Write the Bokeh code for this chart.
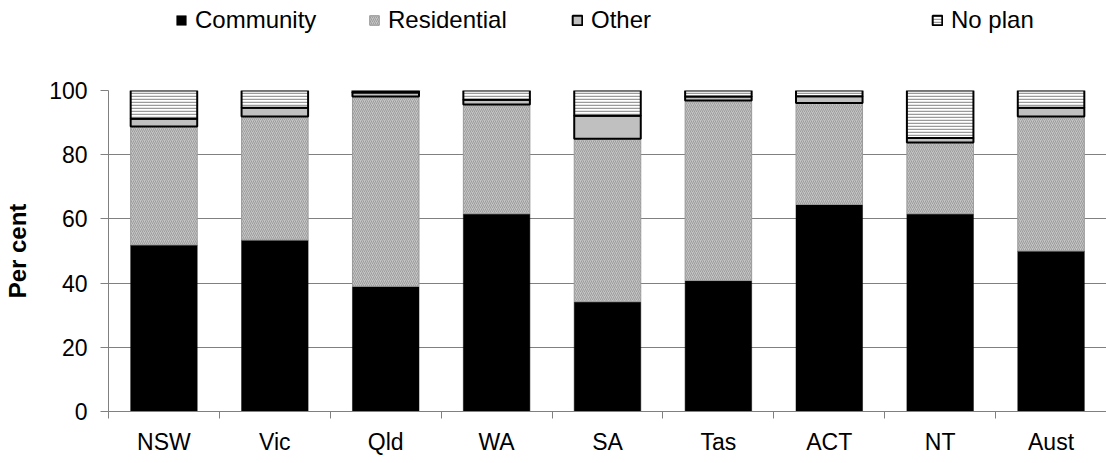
from bokeh.plotting import figure
from bokeh.layouts import column
from bokeh.models import (ColumnDataSource, Range1d, FixedTicker, Legend, LegendItem)
from bokeh.embed import file_html
from bokeh.resources import INLINE

categories = ["NSW", "Vic", "Qld", "WA", "SA", "Tas", "ACT", "NT", "Aust"]
community = [51.9, 53.4, 39.0, 61.6, 34.2, 40.8, 64.5, 61.6, 50.0]
residential = [36.9, 38.5, 59.1, 34.0, 50.8, 56.1, 31.6, 22.2, 41.9]
other = [2.4, 2.7, 1.3, 1.5, 7.1, 1.2, 2.1, 1.4, 2.7]
no_plan = [8.8, 5.4, 0.6, 2.9, 7.9, 1.9, 1.8, 14.8, 5.4]
series_names = ["Community", "Residential", "Other", "No plan"]
y_ticks = [0, 20, 40, 60, 80, 100]

FONT = "Liberation Sans"
FS = "23px"
LFS = "24px"

x = [i + 0.5 for i in range(len(categories))]
data = dict(x=x, community=community, residential=residential,
            other=other, no_plan=no_plan)
src = ColumnDataSource(data)
stack_fields = ["community", "residential", "other", "no_plan"]

styles = [
    dict(fill_color="black", line_color="black", line_width=0.5),
    dict(fill_color="#c4c4c4", line_color="#9a9a9a", line_width=1,
         hatch_pattern="/", hatch_color="#9c9c9c", hatch_scale=4, hatch_weight=1),
    dict(fill_color="#c0c0c0", line_color="black", line_width=2),
    dict(fill_color="white", line_color="black", line_width=2,
         hatch_pattern="-", hatch_color="#9a9a9a", hatch_scale=3, hatch_weight=1.5),
]


def apply_style(glyph, s):
    for k, v in s.items():
        setattr(glyph, k, v)


# ---------- main chart ----------
p = figure(width=1106, height=423, output_backend="svg", toolbar_location=None,
           x_range=Range1d(0, len(categories)), y_range=Range1d(0, 100),
           min_border_left=108, min_border_right=0, min_border_top=50,
           min_border_bottom=52)
p.outline_line_color = None
p.background_fill_color = "white"

renderers = p.vbar_stack(stack_fields, x="x", width=0.6, source=src)
for r, s in zip(renderers, styles):
    apply_style(r.glyph, s)

# y axis
p.yaxis.ticker = FixedTicker(ticks=y_ticks)
p.yaxis.axis_line_color = "#808080"
p.yaxis.major_tick_line_color = "#808080"
p.yaxis.major_tick_out = 8
p.yaxis.major_tick_in = 0
p.yaxis.minor_tick_line_color = None
p.yaxis.major_label_text_font = FONT
p.yaxis.major_label_text_font_size = FS
p.yaxis.major_label_text_color = "black"
p.yaxis.major_label_standoff = 13
p.yaxis.axis_label = "Per cent"
p.yaxis.axis_label_text_font = FONT
p.yaxis.axis_label_text_font_size = LFS
p.yaxis.axis_label_text_font_style = "bold"
p.yaxis.axis_label_text_color = "black"
p.yaxis.axis_label_standoff = 15

# x axis: labels at centres, ticks at category boundaries
p.xaxis.ticker = FixedTicker(ticks=x, minor_ticks=list(range(len(categories) + 1)))
p.xaxis.major_label_overrides = {xi: c for xi, c in zip(x, categories)}
p.xaxis.axis_line_color = "#808080"
p.xaxis.major_tick_line_color = None
p.xaxis.major_tick_out = 0
p.xaxis.major_tick_in = 0
p.xaxis.minor_tick_line_color = "#808080"
p.xaxis.minor_tick_out = 7
p.xaxis.minor_tick_in = 0
p.xaxis.major_label_text_font = FONT
p.xaxis.major_label_text_font_size = FS
p.xaxis.major_label_text_color = "black"
p.xaxis.major_label_standoff = 10

p.xgrid.grid_line_color = None
p.ygrid.grid_line_color = "#808080"
p.ygrid.grid_line_width = 1

# ---------- legend strip above (its frame is aligned with the chart's) ----------
pl = figure(width=1106, height=40, output_backend="svg", toolbar_location=None,
            x_range=Range1d(100, 101), y_range=Range1d(0, 1),
            x_axis_type=None, y_axis_type=None,
            min_border_left=108, min_border_right=0, min_border_top=0,
            min_border_bottom=0)
pl.outline_line_color = None
pl.xgrid.grid_line_color = None
pl.ygrid.grid_line_color = None

# same stacked bars, hidden in this strip: they only feed the legend swatches
leg_renderers = pl.vbar_stack(stack_fields, x="x", width=0.6, source=src)
for r, s in zip(leg_renderers, styles):
    apply_style(r.glyph, s)
    r.visible = False

legend_x = [175, 368, 571, 931]
for r, name, lx in zip(leg_renderers, series_names, legend_x):
    lg = Legend(items=[LegendItem(label=name, renderers=[r])],
                location=(lx - 108, 6), orientation="horizontal",
                glyph_width=12, glyph_height=12, label_standoff=8,
                label_text_font=FONT, label_text_font_size=LFS,
                label_text_color="black", click_policy="none",
                padding=0, margin=0, spacing=0,
                border_line_alpha=0, background_fill_alpha=0)
    pl.add_layout(lg, "center")

layout = column(pl, p, spacing=0)
open("out.html", "w").write(file_html(layout, INLINE))
